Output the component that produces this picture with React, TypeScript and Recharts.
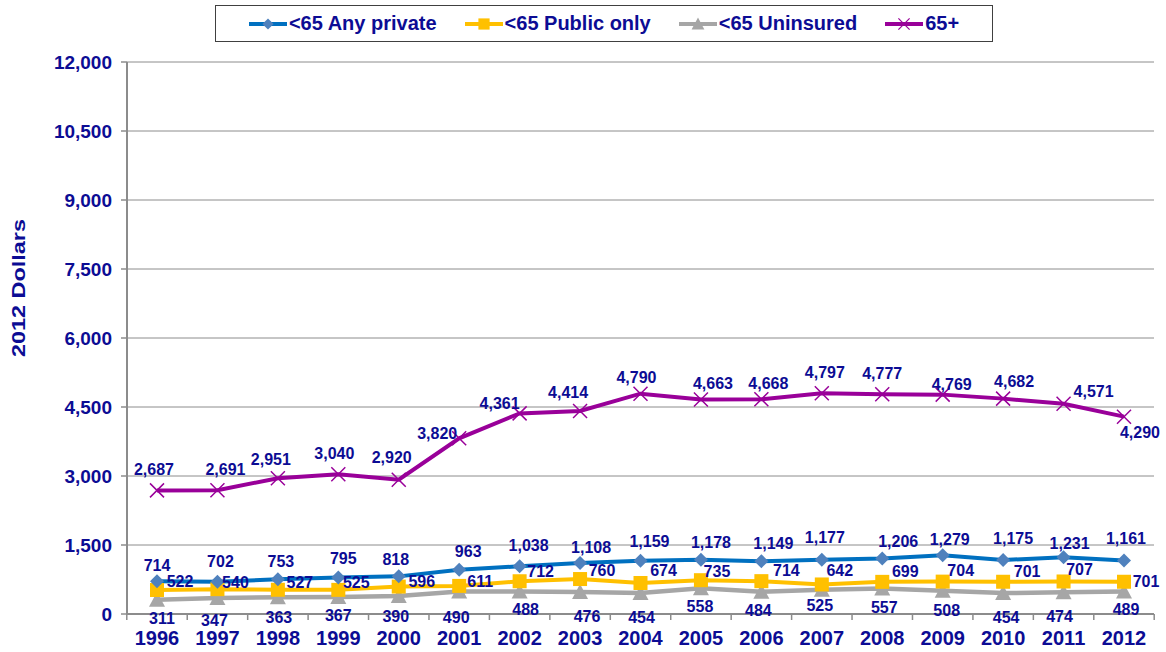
import React from 'react'
import { LineChart, Line, XAxis, YAxis, CartesianGrid } from 'recharts'

const YEARS = ['1996', '1997', '1998', '1999', '2000', '2001', '2002', '2003', '2004', '2005', '2006', '2007', '2008', '2009', '2010', '2011', '2012']
const ANY_PRIVATE = [714, 702, 753, 795, 818, 963, 1038, 1108, 1159, 1178, 1149, 1177, 1206, 1279, 1175, 1231, 1161]
const PUBLIC_ONLY = [522, 540, 527, 525, 596, 611, 712, 760, 674, 735, 714, 642, 699, 704, 701, 707, 701]
const UNINSURED = [311, 347, 363, 367, 390, 490, 488, 476, 454, 558, 484, 525, 557, 508, 454, 474, 489]
const OVER_65 = [2687, 2691, 2951, 3040, 2920, 3820, 4361, 4414, 4790, 4663, 4668, 4797, 4777, 4769, 4682, 4571, 4290]
const Y_TICKS = [0, 1500, 3000, 4500, 6000, 7500, 9000, 10500, 12000]

// label nudges [dx, dy] from each point, so labels sit where the original put them
const PRIV_OFF = [[0, -16], [3, -20], [3, -18], [5, -19], [-3, -17], [9, -18], [9, -21], [11, -16], [9, -19], [10, -17], [12, -18], [3, -22], [16, -17], [7, -16], [10, -21], [6, -14], [2, -22]]
const PUB_OFF = [[23, -8], [18, -7], [22, -7], [18, -7], [23, -5], [21, -4], [21, -10], [22, -9], [23, -12], [16, -9], [25, -11], [18, -14], [23, -10], [18, -11], [24, -10], [16, -12], [22, 0]]
const UNIN_OFF = [[5, 19], [-3, 22], [1, 20], [0, 18], [-3, 20], [-3, 26], [6, 18], [7, 24], [1, 24], [-1, 18], [-3, 19], [-2, 16], [2, 19], [4, 20], [3, 24], [-4, 24], [2, 18]]
const OLD_OFF = [[-3, -21], [8, -21], [-7, -19], [-4, -21], [-7, -22], [-22, -5], [-20, -10], [-12, -18], [-4, -16], [12, -16], [7, -16], [3, -21], [0, -21], [9, -10], [11, -17], [30, -12], [16, 16]]

const TEXT = '#0c0c94'
const FONT = '"Liberation Sans", Arial, sans-serif'
const GRID = '#8c8c8c'

const data = YEARS.map((year, i) => ({
  year,
  priv: ANY_PRIVATE[i],
  pub: PUBLIC_ONLY[i],
  unin: UNINSURED[i],
  old: OVER_65[i],
}))

const fmt = (v: number) => v.toLocaleString('en-US')

const makeLabel = (offs: number[][]) => (p: any) => {
  const [dx, dy] = offs[p.index] || [0, 0]
  const x = p.x ?? p.viewBox?.x
  const y = p.y ?? p.viewBox?.y
  return (
    <text key={`l${p.index}`} x={x + dx} y={y + dy} textAnchor="middle" dominantBaseline="central"
      fill={TEXT} fontSize={16} fontWeight="bold" fontFamily={FONT}>
      {fmt(p.value)}
    </text>
  )
}

const Diamond = ({ cx, cy }: any) => (
  <path d={`M${cx},${cy - 7}L${cx + 7},${cy}L${cx},${cy + 7}L${cx - 7},${cy}Z`} fill="#4F81BD" />
)
const Square = ({ cx, cy }: any) => (
  <rect x={cx - 7} y={cy - 7} width={14} height={14} fill="#FFC000" />
)
const Triangle = ({ cx, cy }: any) => (
  <path d={`M${cx},${cy - 8}L${cx + 8},${cy + 7}L${cx - 8},${cy + 7}Z`} fill="#A6A6A6" />
)
const Cross = ({ cx, cy }: any) => (
  <path d={`M${cx - 7},${cy - 7}L${cx + 7},${cy + 7}M${cx + 7},${cy - 7}L${cx - 7},${cy + 7}`} stroke="#990099" strokeWidth={1.5} fill="none" />
)

const BAND = (1027) / YEARS.length

const YearTick = ({ x, y, payload, index }: any) => (
  <g>
    <line x1={x - BAND / 2} y1={y - 12} x2={x - BAND / 2} y2={y - 6} stroke={GRID} strokeWidth={1.5} />
    {index === YEARS.length - 1 && (
      <line x1={x + BAND / 2} y1={y - 12} x2={x + BAND / 2} y2={y - 6} stroke={GRID} strokeWidth={1.5} />
    )}
    <text x={x} y={y + 12} textAnchor="middle" dominantBaseline="central" fill={TEXT}
      fontSize={20} fontWeight="bold" fontFamily={FONT}>{payload.value}</text>
  </g>
)

const YLabel = ({ viewBox }: any) => (
  <text x={19} y={viewBox.y + 226} transform={`rotate(-90, 19, ${viewBox.y + 226})`} textAnchor="middle"
    dominantBaseline="central" fill={TEXT} fontSize={18} fontWeight="bold" fontFamily={FONT}
    textLength={138} lengthAdjust="spacingAndGlyphs">
    2012 Dollars
  </text>
)

const LEGEND = [
  { name: '<65 Any private', color: '#0070C0', Mark: Diamond },
  { name: '<65 Public only', color: '#FFC000', Mark: Square },
  { name: '<65 Uninsured', color: '#A6A6A6', Mark: Triangle },
  { name: '65+', color: '#990099', Mark: Cross },
]

function Legend() {
  return (
    <div style={{
      position: 'absolute', left: 215, top: 5, width: 776, height: 35, border: '1px solid #404040',
      background: '#fff', display: 'flex', alignItems: 'center', justifyContent: 'center', gap: 28,
      fontFamily: FONT, fontWeight: 'bold', fontSize: 20, color: TEXT,
    }}>
      {LEGEND.map(({ name, color, Mark }) => (
        <span key={name} style={{ display: 'flex', alignItems: 'center' }}>
          <svg width={38} height={18} style={{ marginRight: 2 }}>
            <line x1={0} y1={9} x2={38} y2={9} stroke={color} strokeWidth={4} />
            <g transform="translate(19,9) scale(0.8) translate(-19,-9)">
              <Mark cx={19} cy={9} />
            </g>
          </svg>
          {name}
        </span>
      ))}
    </div>
  )
}

export default function App() {
  return (
    <div style={{ position: 'absolute', left: 0, top: 0, width: 1166, height: 652, background: '#fff' }}>
      <LineChart width={1166} height={652} data={data} margin={{ top: 62, right: 12, bottom: 0, left: 0 }}>
        <CartesianGrid vertical={false} stroke={GRID} strokeWidth={1} />
        <XAxis
          dataKey="year"
          height={38}
          padding={{ left: 30, right: 30 }}
          axisLine={{ stroke: GRID, strokeWidth: 2 }}
          tickLine={false}
          tickSize={0}
          tickMargin={12}
          interval={0}
          tick={<YearTick />}
        />
        <YAxis
          width={127}
          domain={[0, 12000]}
          ticks={Y_TICKS}
          interval={0}
          tickFormatter={fmt}
          axisLine={{ stroke: GRID, strokeWidth: 2 }}
          tickLine={{ stroke: GRID, strokeWidth: 1.5 }}
          tickSize={6}
          tickMargin={9}
          tick={{ fill: TEXT, fontSize: 19, fontWeight: 'bold', fontFamily: FONT }}
          label={<YLabel />}
        />
        <Line dataKey="unin" stroke="#A6A6A6" strokeWidth={4.5} isAnimationActive={false}
          dot={(p: any) => <Triangle key={p.index} {...p} />} label={makeLabel(UNIN_OFF)} />
        <Line dataKey="pub" stroke="#FFC000" strokeWidth={4} isAnimationActive={false}
          dot={(p: any) => <Square key={p.index} {...p} />} label={makeLabel(PUB_OFF)} />
        <Line dataKey="priv" stroke="#0070C0" strokeWidth={4} isAnimationActive={false}
          dot={(p: any) => <Diamond key={p.index} {...p} />} label={makeLabel(PRIV_OFF)} />
        <Line dataKey="old" stroke="#990099" strokeWidth={4} isAnimationActive={false}
          dot={(p: any) => <Cross key={p.index} {...p} />} label={makeLabel(OLD_OFF)} />
      </LineChart>
      <Legend />
    </div>
  )
}
